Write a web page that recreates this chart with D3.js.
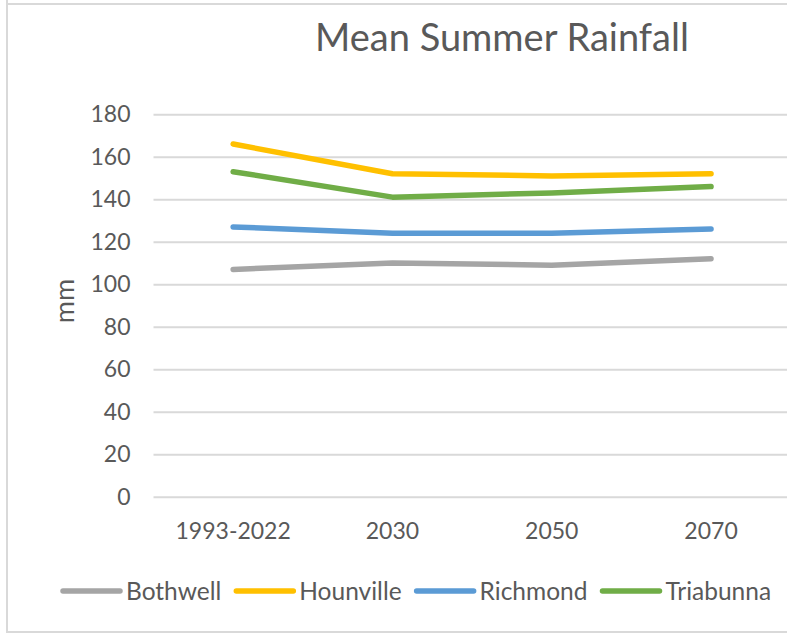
<!DOCTYPE html>
<html>
<head>
<meta charset="utf-8">
<script src="https://cdn.jsdelivr.net/npm/d3@7"></script>
<style>
  body { margin: 0; background: #fff; }
  text { font-family: Lato, "Open Sans", sans-serif; fill: #595959; }
</style>
</head>
<body>
<div id="chart"></div>
<script>
// data
var categories = ["1993-2022", "2030", "2050", "2070"];
var seriesNames = ["Bothwell", "Hounville", "Richmond", "Triabunna"];
var bothwell = [107, 110, 109, 112];
var hounville = [166, 152, 151, 152];
var richmond = [127, 124, 124, 126];
var triabunna = [153, 141, 143, 146];
var yTicks = [0, 20, 40, 60, 80, 100, 120, 140, 160, 180];

var seriesValues = [bothwell, hounville, richmond, triabunna];
var color = d3.scaleOrdinal()
    .domain(seriesNames)
    .range(["#A5A5A5", "#FFC000", "#5B9BD5", "#70AD47"]);

var W = 787, H = 634;
var plot = {left: 153.5, right: 790.7, top: 114.3, bottom: 496.7};

var svg = d3.select("#chart").append("svg")
    .attr("width", W)
    .attr("height", H);

// chart area border
svg.append("rect")
    .attr("x", 7).attr("y", 4)
    .attr("width", W).attr("height", 628)
    .style("fill", "none")
    .style("stroke", "#D9D9D9")
    .style("stroke-width", 2);
svg.append("line")
    .attr("x1", 7).attr("x2", 7).attr("y1", 0).attr("y2", 4)
    .style("stroke", "#D9D9D9").style("stroke-width", 2);

// title
svg.append("text")
    .attr("x", 502)
    .attr("y", 51)
    .attr("text-anchor", "middle")
    .style("font-size", "38px")
    .text("Mean Summer Rainfall");

// scales
var x = d3.scaleBand()
    .domain(categories)
    .range([plot.left, plot.right])
    .padding(0);

var y = d3.scaleLinear()
    .domain([0, 180])
    .range([plot.bottom, plot.top]);

// y axis with gridlines
var yAxis = svg.append("g")
    .attr("transform", "translate(" + plot.left + ",0)")
    .call(d3.axisLeft(y).tickValues(yTicks).tickSize(-(plot.right - plot.left)).tickPadding(23));
yAxis.select(".domain").remove();
yAxis.selectAll("line").style("stroke", "#D9D9D9").style("stroke-width", 2);
yAxis.selectAll("text")
    .style("font-size", "23px")
    .style("font-family", "Lato, 'Open Sans', sans-serif")
    .style("fill", "#595959");

// x axis labels
var xAxis = svg.append("g")
    .attr("transform", "translate(0," + plot.bottom + ")")
    .call(d3.axisBottom(x).tickSize(0).tickPadding(26));
xAxis.select(".domain").remove();
xAxis.selectAll("text")
    .style("font-size", "23px")
    .style("font-family", "Lato, 'Open Sans', sans-serif")
    .style("fill", "#595959");

// y axis title
svg.append("text")
    .attr("transform", "translate(74,301) rotate(-90)")
    .attr("text-anchor", "middle")
    .style("font-size", "27px")
    .text("mm");

// lines
var line = d3.line()
    .x(function(d, i) { return x(categories[i]) + x.bandwidth() / 2; })
    .y(function(d) { return y(d); });

svg.append("g")
    .selectAll("path")
    .data(seriesNames)
    .enter()
    .append("path")
    .attr("d", function(d, i) { return line(seriesValues[i]); })
    .style("fill", "none")
    .style("stroke", function(d) { return color(d); })
    .style("stroke-width", 5.5)
    .style("stroke-linecap", "round")
    .style("stroke-linejoin", "round");

// legend
var legend = svg.append("g");
var legendY = 591;
var lx = 60;
seriesNames.forEach(function(name) {
    var item = legend.append("g").attr("transform", "translate(" + lx + ",0)");
    item.append("line")
        .attr("x1", 3).attr("x2", 60)
        .attr("y1", legendY).attr("y2", legendY)
        .style("stroke", color(name))
        .style("stroke-width", 5.5)
        .style("stroke-linecap", "round");
    var t = item.append("text")
        .attr("x", 66)
        .attr("y", legendY)
        .attr("dy", "0.35em")
        .style("font-size", "24.5px")
        .text(name);
    lx += 66 + t.node().getComputedTextLength() + 12;
});
</script>
</body>
</html>
